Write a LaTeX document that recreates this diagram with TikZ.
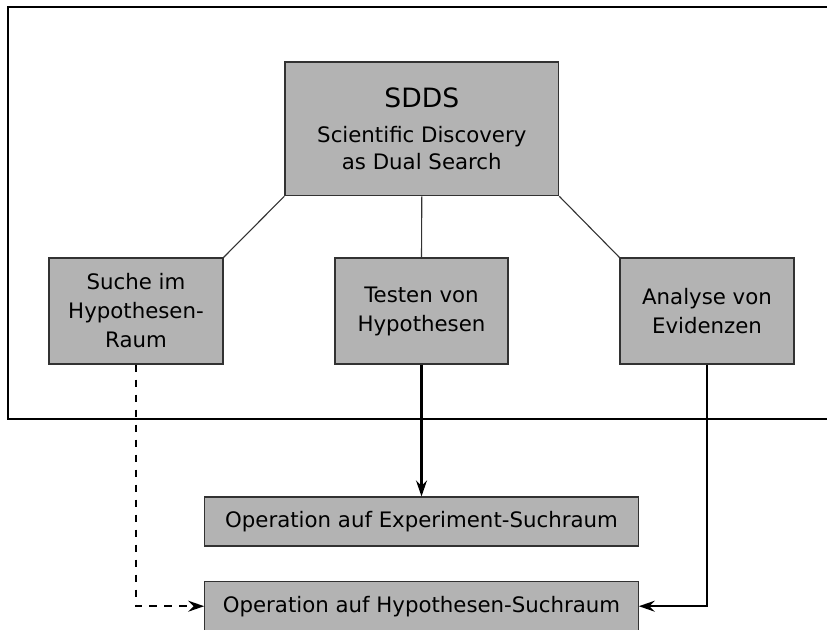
\documentclass[tikz,border=0pt]{standalone}
\usepackage{fontspec}
\setmainfont{DejaVu Sans}
\usetikzlibrary{arrows.meta}
\definecolor{boxfill}{RGB}{179,179,179}
\definecolor{boxline}{RGB}{50,50,50}
\tikzset{
  box/.style={draw=boxline, line width=1.2pt, fill=boxfill, align=center,
    inner sep=0pt, font=\fontsize{21.3}{29}\selectfont},
  tree/.style={draw=boxline, line width=1.1pt},
  flow/.style={draw=black, line width=2.2pt,
    -{Stealth[length=16pt,width=11pt,inset=5.5pt]}},
  flowdash/.style={flow, dash pattern=on 7.5pt off 7.5pt}
}
\begin{document}
\begin{tikzpicture}[x=1pt,y=-1pt]
\useasboundingbox (0,0) rectangle (827,629);
\draw[line width=2.3pt] (8,7) rectangle (850,419);
\node[box, minimum width=273.7pt, minimum height=133.7pt] (sdds) at (421.8,128.8)
  {{\fontsize{26.6}{30}\selectfont SDDS}\\[6pt]Scientific Discovery\\[-1.6pt]as Dual Search};
\node[box, minimum width=174pt, minimum height=106pt] (a) at (136,311)
  {Suche im\\Hypothesen-\\Raum};
\node[box, minimum width=173pt, minimum height=106pt] (b) at (421.5,311)
  {Testen von\\Hypothesen};
\node[box, minimum width=174pt, minimum height=106pt] (c) at (707,311)
  {Analyse von\\Evidenzen};
\node[box, minimum width=433.5pt, minimum height=49pt] (e) at (421.5,521.5)
  {Operation auf Experiment-Suchraum};
\node[box, minimum width=433.5pt, minimum height=49pt] (h) at (421.5,606.2)
  {Operation auf Hypothesen-Suchraum};
\draw[tree] (sdds.south west) -- (a.north east);
\draw[tree] (sdds.south) -- (b.north);
\draw[tree] (sdds.south east) -- (c.north west);
\draw[flow] (b.south) -- (e.north);
\draw[flowdash] (a.south) |- (h.west);
\draw[flow] (c.south) |- (h.east);
\end{tikzpicture}
\end{document}
